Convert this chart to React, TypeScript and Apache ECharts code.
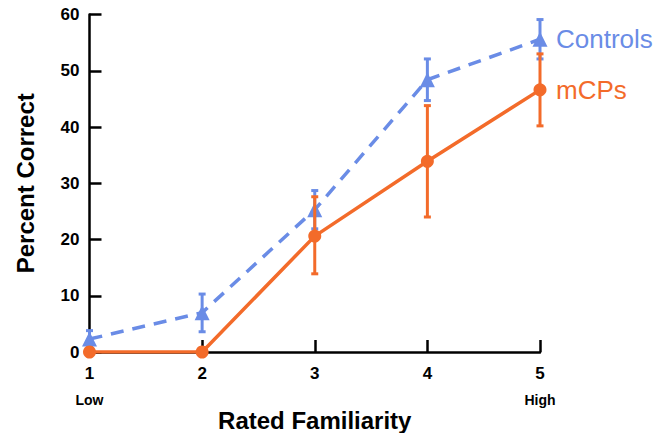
import React, { useEffect, useRef } from "react";
import * as echarts from "echarts";

const familiarity = [1, 2, 3, 4, 5];
const xTickLabels: Record<number, string> = { 1: "Low", 5: "High" };
const controlsMean = [2.3, 7.0, 25.3, 48.4, 55.6];
const controlsLow = [1.0, 3.6, 21.9, 44.7, 52.1];
const controlsHigh = [3.8, 10.3, 28.7, 52.1, 59.1];
const mcpsMean = [0, 0, 20.6, 33.9, 46.6];
const mcpsLow = [0, 0, 13.9, 24.0, 40.2];
const mcpsHigh = [0, 0, 27.6, 43.8, 53.0];

const BLUE = "#6a8ce6";
const ORANGE = "#f36b2a";
const FONT = "'Liberation Sans', Arial, Helvetica, sans-serif";

function errorSeries(name: string, low: number[], high: number[], color: string, z: number) {
  const data = familiarity
    .map((x, i) => [x, low[i], high[i]])
    .filter((d) => d[2] > d[1]);
  return {
    name: name + " error",
    type: "custom",
    z,
    clip: false,
    data,
    renderItem: (params: any, api: any) => {
      const x = api.value(0);
      const top = api.coord([x, api.value(2)]);
      const bot = api.coord([x, api.value(1)]);
      const w = 3.5;
      const style = { stroke: color, lineWidth: 3 };
      return {
        type: "group",
        children: [
          { type: "line", shape: { x1: top[0], y1: top[1], x2: bot[0], y2: bot[1] }, style },
          { type: "line", shape: { x1: top[0] - w, y1: top[1], x2: top[0] + w, y2: top[1] }, style },
          { type: "line", shape: { x1: bot[0] - w, y1: bot[1], x2: bot[0] + w, y2: bot[1] }, style },
        ],
      };
    },
  };
}

export default function App() {
  const ref = useRef<HTMLDivElement>(null);
  useEffect(() => {
    if (!ref.current) return;
    const chart = echarts.init(ref.current, null, { renderer: "svg" });
    chart.setOption({
      animation: false,
      backgroundColor: "#ffffff",
      textStyle: { fontFamily: FONT },
      grid: {
        left: 89.5,
        right: 128,
        top: 14.5,
        bottom: 81,
        containLabel: false,
        outerBoundsMode: "none",
      },
      xAxis: {
        type: "value",
        min: 1,
        max: 5,
        interval: 1,
        name: "Rated Familiarity",
        nameLocation: "middle",
        nameGap: 56,
        nameMoveOverlap: false,
        nameTextStyle: { fontSize: 24, fontWeight: "bold", color: "#000", fontFamily: FONT },
        axisLine: { lineStyle: { color: "#000", width: 2.5 } },
        axisTick: { inside: true, length: 12, lineStyle: { color: "#000", width: 2.5 } },
        splitLine: { show: false },
        axisLabel: {
          margin: 12,
          formatter: (v: number) =>
            xTickLabels[v] ? `{n|${v}}\n{s|${xTickLabels[v]}}` : `{n|${v}}`,
          rich: {
            n: { fontSize: 17, fontWeight: "bold", color: "#000", fontFamily: FONT, lineHeight: 18 },
            s: { fontSize: 14, fontWeight: "bold", color: "#000", fontFamily: FONT, lineHeight: 36 },
          },
        },
      },
      yAxis: {
        type: "value",
        min: 0,
        max: 60,
        interval: 10,
        name: "Percent Correct",
        nameLocation: "middle",
        nameRotate: 90,
        nameGap: 52,
        nameMoveOverlap: false,
        nameTextStyle: { fontSize: 24, fontWeight: "bold", color: "#000", fontFamily: FONT },
        axisLine: { show: true, lineStyle: { color: "#000", width: 2.5 } },
        axisTick: { show: true, inside: true, length: 12, lineStyle: { color: "#000", width: 2.5 } },
        splitLine: { show: false },
        axisLabel: { margin: 10, fontSize: 17, fontWeight: "bold", color: "#000", fontFamily: FONT },
      },
      series: [
        errorSeries("Controls", controlsLow, controlsHigh, BLUE, 2),
        {
          name: "Controls",
          type: "line",
          z: 3,
          data: familiarity.map((x, i) => [x, controlsMean[i]]),
          symbol: "triangle",
          symbolSize: 15,
          lineStyle: { color: BLUE, width: 3.5, type: [13, 9] },
          itemStyle: { color: BLUE },
          endLabel: {
            show: true,
            formatter: "{a}",
            distance: 16,
            color: BLUE,
            fontSize: 26,
            fontFamily: FONT,
          },
        },
        errorSeries("mCPs", mcpsLow, mcpsHigh, ORANGE, 4),
        {
          name: "mCPs",
          type: "line",
          z: 5,
          data: familiarity.map((x, i) => [x, mcpsMean[i]]),
          symbol: "circle",
          symbolSize: 13,
          lineStyle: { color: ORANGE, width: 3.5 },
          itemStyle: { color: ORANGE },
          endLabel: {
            show: true,
            formatter: "{a}",
            distance: 16,
            color: ORANGE,
            fontSize: 26,
            fontFamily: FONT,
          },
        },
      ],
    });
    return () => chart.dispose();
  }, []);
  return (
    <div
      ref={ref}
      style={{ position: "absolute", left: 0, top: 0, width: 668, height: 433 }}
    />
  );
}
